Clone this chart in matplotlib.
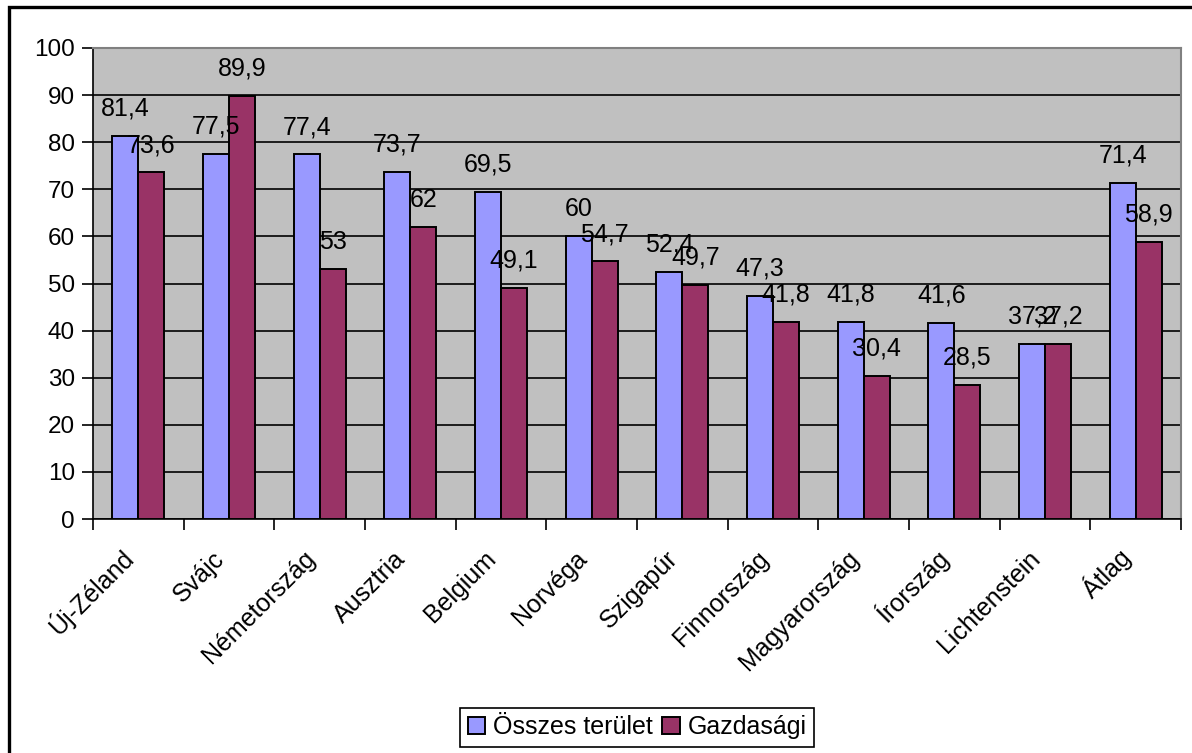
import matplotlib.pyplot as plt
import numpy as np
from matplotlib.patches import Rectangle

plt.rcParams['font.family'] = ['Liberation Sans', 'DejaVu Sans']

# data
countries = ['Új-Zéland', 'Svájc', 'Németország', 'Ausztria', 'Belgium', 'Norvéga',
             'Szigapúr', 'Finnország', 'Magyarország', 'Írország', 'Lichtenstein', 'Átlag']
osszes = [81.4, 77.5, 77.4, 73.7, 69.5, 60, 52.4, 47.3, 41.8, 41.6, 37.2, 71.4]
gazdasagi = [73.6, 89.9, 53, 62, 49.1, 54.7, 49.7, 41.8, 30.4, 28.5, 37.2, 58.9]
yticks = list(range(0, 101, 10))


def fmt(v):
    # hungarian decimal comma
    s = f"{v:g}"
    return s.replace('.', ',')


fig = plt.figure(figsize=(11.92, 7.53), dpi=100)
ax = fig.add_axes([93 / 1192, 1 - 519 / 753, (1181 - 93) / 1192, (519 - 48) / 753])

# outer frame of the chart
fig.patches.append(Rectangle((9 / 1192, -0.01), 1.02, 1 - 7 / 753 + 0.01,
                             transform=fig.transFigure, fill=False,
                             edgecolor='black', linewidth=2.4))

x = np.arange(len(countries))
w = 1 / 3.5
b1 = ax.bar(x - w / 2, osszes, w, color='#9999FF', edgecolor='black',
            linewidth=1.4, label='Összes terület', zorder=3)
b2 = ax.bar(x + w / 2, gazdasagi, w, color='#993366', edgecolor='black',
            linewidth=1.4, label='Gazdasági', zorder=3)

for bars, vals in ((b1, osszes), (b2, gazdasagi)):
    for r, v in zip(bars, vals):
        ax.annotate(fmt(v), (r.get_x() + r.get_width() / 2, v),
                    xytext=(0, 11), textcoords='offset points',
                    ha='center', va='bottom', fontsize=18, zorder=5)

ax.set_facecolor('#C0C0C0')
ax.set_xlim(-0.5, len(countries) - 0.5)
ax.set_ylim(0, 100)
ax.set_yticks(yticks)
ax.tick_params(axis='y', labelsize=17.5, length=8, width=1.2, pad=5)
ax.yaxis.grid(True, color='black', linewidth=1.2, zorder=0)
ax.set_axisbelow(True)

ax.set_xticks(x)
ax.set_xticklabels(countries, rotation=45, ha='right', va='bottom',
                   rotation_mode='anchor', fontsize=18)
ax.tick_params(axis='x', which='major', length=0, pad=32)
ax.set_xticks(np.arange(-0.5, len(countries), 1), minor=True)
ax.tick_params(axis='x', which='minor', length=8, width=1.2)

for s in ('top', 'right'):
    ax.spines[s].set_color('#808080')
    ax.spines[s].set_linewidth(1.5)
ax.spines['left'].set_linewidth(1.2)
ax.spines['bottom'].set_linewidth(1.2)

leg = ax.legend(loc='center', bbox_to_anchor=(0.5, -0.442), ncol=2, fontsize=18,
                frameon=True, fancybox=False, edgecolor='black', framealpha=1,
                handlelength=0.7, handleheight=0.7, handletextpad=0.3,
                columnspacing=0.4, borderpad=0.3)
leg.get_frame().set_linewidth(1.2)

fig.savefig('out.png', dpi=100)
